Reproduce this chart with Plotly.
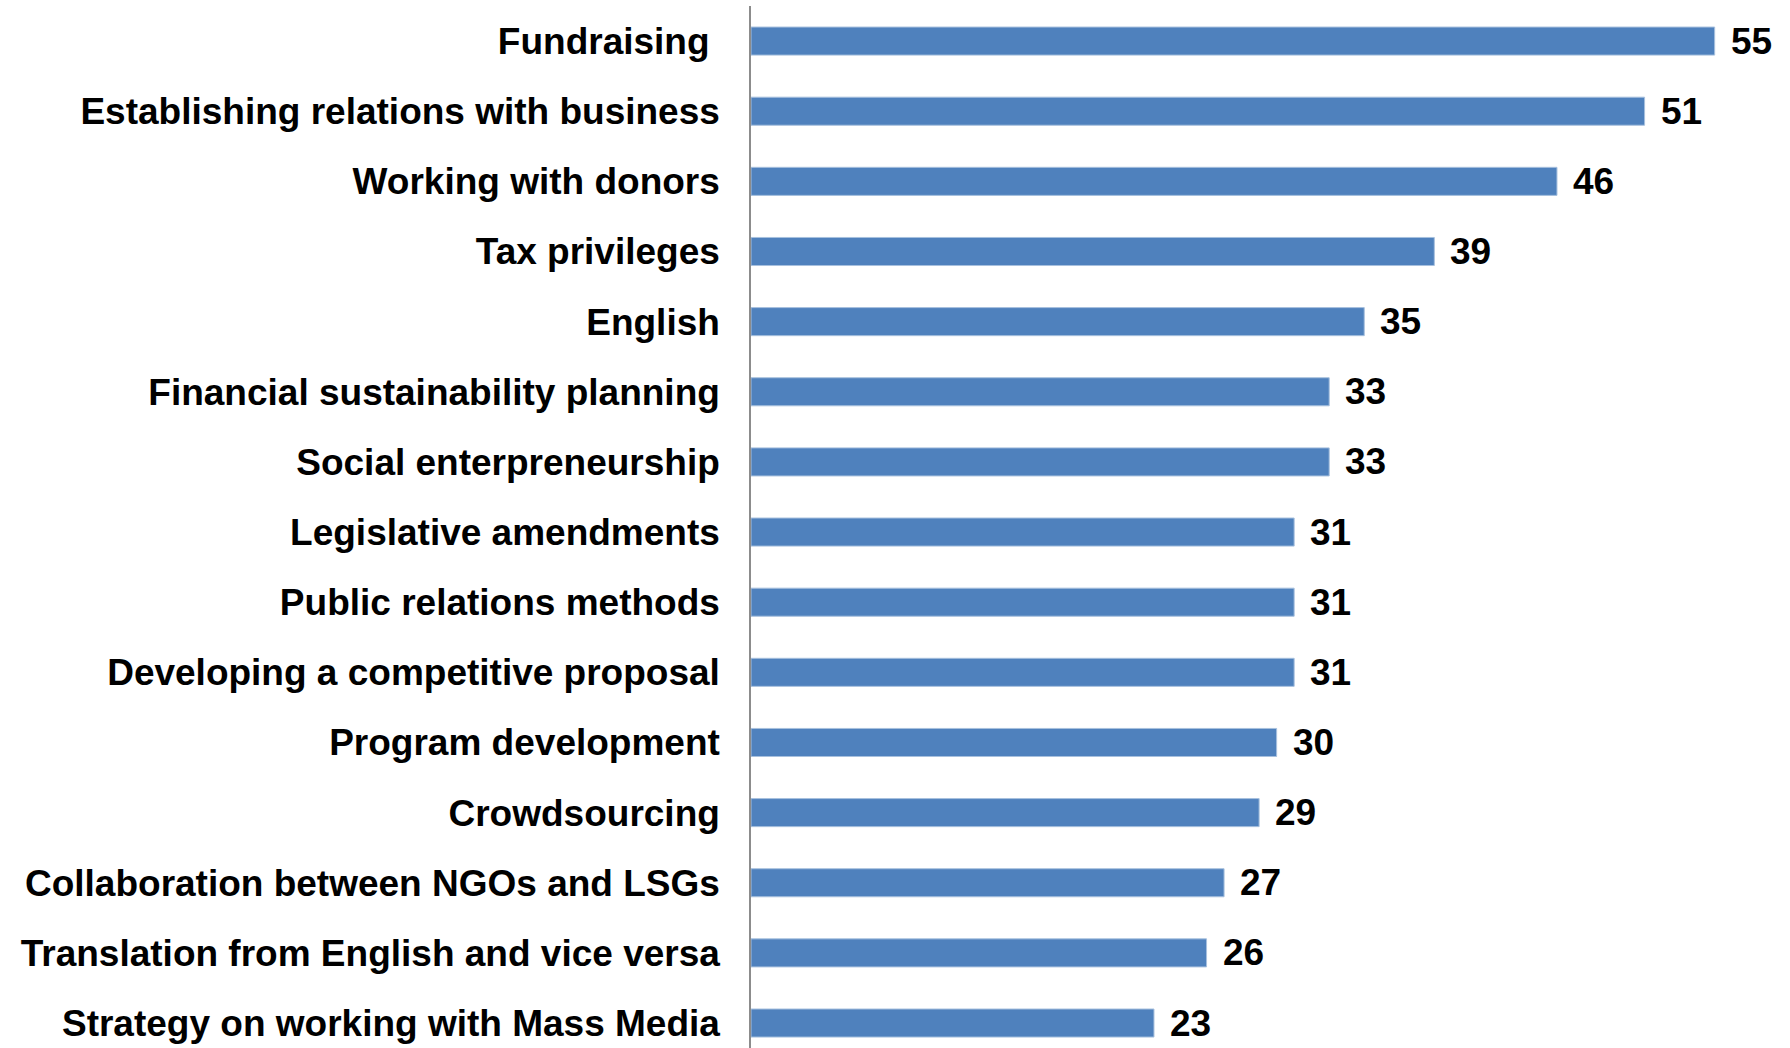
import plotly.graph_objects as go

# Training topics and number of responses
topics = [
    "Fundraising ",
    "Establishing relations with business",
    "Working with donors",
    "Tax privileges",
    "English",
    "Financial sustainability planning",
    "Social enterpreneurship",
    "Legislative amendments",
    "Public relations methods",
    "Developing a competitive proposal",
    "Program development",
    "Crowdsourcing",
    "Collaboration between NGOs and LSGs",
    "Translation from English and vice versa",
    "Strategy on working with Mass Media",
]
responses = [55, 51, 46, 39, 35, 33, 33, 31, 31, 31, 30, 29, 27, 26, 23]

FONT = "Liberation Sans, Arial, sans-serif"
BAR_COLOR = "#4F81BD"

fig = go.Figure()
fig.add_trace(
    go.Bar(
        x=responses,
        y=topics,
        orientation="h",
        marker=dict(color=BAR_COLOR, line=dict(color="#A7C0DE", width=1)),
        hoverinfo="x+y",
    )
)

# value labels to the right of each bar
for t, v in zip(topics, responses):
    fig.add_annotation(
        x=v,
        y=t,
        text=str(v),
        showarrow=False,
        xanchor="left",
        yanchor="middle",
        xshift=14,
        font=dict(family=FONT, size=37, color="black", weight="bold"),
    )

fig.update_layout(
    width=1790,
    height=1048,
    margin=dict(l=751, r=0, t=6, b=0),
    paper_bgcolor="white",
    plot_bgcolor="white",
    showlegend=False,
    bargap=0.6,
    font=dict(family=FONT, size=37, color="black"),
)
fig.update_xaxes(visible=False, range=[0, 59.3])
fig.update_yaxes(
    type="category",
    categoryorder="array",
    categoryarray=topics,
    range=[len(topics) - 1 + 0.356, -0.5],
    showline=True,
    linecolor="#8C8C8C",
    linewidth=1.5,
    showgrid=False,
    zeroline=False,
    ticks="",
    ticklabelstandoff=22,
    tickfont=dict(family=FONT, size=37, color="black", weight="bold"),
)

fig.write_html("out.html")
